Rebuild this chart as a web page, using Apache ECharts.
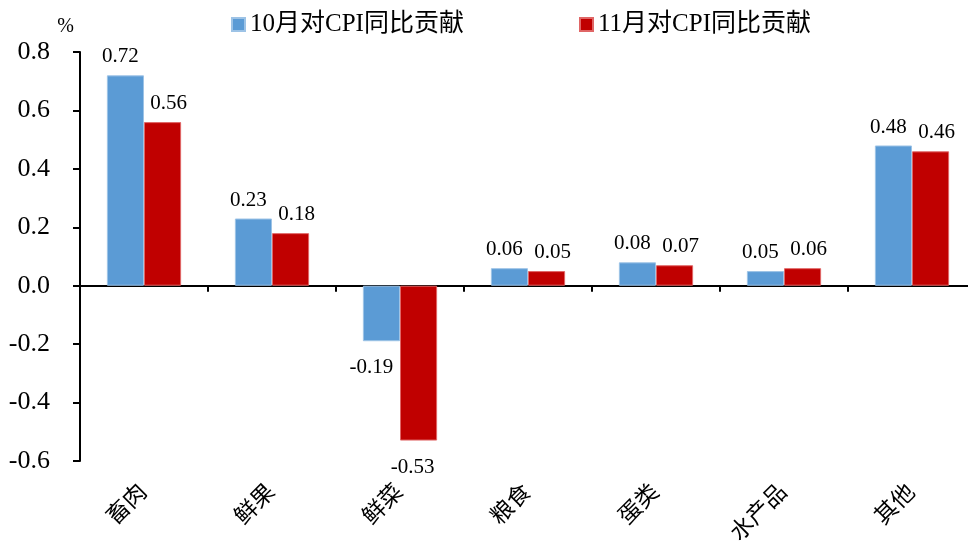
<!DOCTYPE html>
<html>
<head>
<meta charset="utf-8">
<script src="https://cdn.jsdelivr.net/npm/echarts@6/dist/echarts.min.js"></script>
<style>
  html, body { margin: 0; padding: 0; background: #ffffff; }
  #chart { width: 968px; height: 547px; }
</style>
</head>
<body>
<div id="chart"></div>
<script>
// Food-group contributions to year-on-year CPI (percentage points)
const categories = ['畜肉', '鲜果', '鲜菜', '粮食', '蛋类', '水产品', '其他'];
const octValues = [0.72, 0.23, -0.19, 0.06, 0.08, 0.05, 0.48];
const novValues = [0.56, 0.18, -0.53, 0.05, 0.07, 0.06, 0.46];
const seriesNames = ['10月对CPI同比贡献', '11月对CPI同比贡献'];
const yTicks = { min: -0.6, max: 0.8, interval: 0.2 };

const FONT = "'Times New Roman', 'Liberation Serif', 'Noto Sans CJK SC', serif";
const BLUE = '#5B9BD5';
const RED = '#C00000';

// value labels sit above positive bars and below negative ones,
// nudged sideways so that neighbouring labels do not collide
function barData(values, side) {
  return values.map(v => ({
    value: v,
    label: v >= 0
      ? { position: 'top', distance: 8, offset: [side < 0 ? -5 : 6, 0] }
      : { position: 'bottom', distance: 16, offset: [side < 0 ? -10 : -6, 0] }
  }));
}

const chart = echarts.init(document.getElementById('chart'), null, { renderer: 'canvas' });

chart.setOption({
  animation: false,
  backgroundColor: '#ffffff',
  textStyle: { fontFamily: FONT },
  grid: {
    left: 80, width: 896, top: 52, bottom: 86,
    containLabel: false, outerBoundsMode: 'none'
  },
  legend: [
    {
      data: [seriesNames[0]], left: 226, top: 7,
      itemWidth: 13, itemHeight: 13, itemGap: 6, icon: 'rect',
      textStyle: { fontFamily: FONT, fontSize: 25, color: '#000' }
    },
    {
      data: [seriesNames[1]], left: 574, top: 7,
      itemWidth: 13, itemHeight: 13, itemGap: 6, icon: 'rect',
      textStyle: { fontFamily: FONT, fontSize: 25, color: '#000' }
    }
  ],
  xAxis: [
    {
      // axis line through zero with boundary ticks
      type: 'category', data: categories, position: 'bottom',
      axisLine: { onZero: true, lineStyle: { color: '#000', width: 2 } },
      axisTick: { show: true, alignWithLabel: false, length: 6, lineStyle: { color: '#000', width: 2 } },
      axisLabel: { show: false },
      splitLine: { show: false }
    },
    {
      // category names along the bottom of the plot
      type: 'category', data: categories, position: 'bottom',
      axisLine: { show: false, onZero: false },
      axisTick: { show: false },
      axisLabel: {
        show: true, rotate: 45, margin: 28, interval: 0,
        fontFamily: FONT, fontSize: 23, color: '#000'
      },
      splitLine: { show: false }
    }
  ],
  yAxis: {
    type: 'value', min: yTicks.min, max: yTicks.max, interval: yTicks.interval,
    name: '%', nameLocation: 'end', nameGap: 15,
    nameTextStyle: { fontFamily: FONT, fontSize: 20, color: '#000', align: 'right', padding: [0, 6, 0, 0] },
    axisLine: { show: true, lineStyle: { color: '#000', width: 2 } },
    axisTick: { show: true, inside: false, length: 7, lineStyle: { color: '#000', width: 2 } },
    axisLabel: {
      margin: 30, fontFamily: FONT, fontSize: 26, color: '#000',
      formatter: v => v.toFixed(1)
    },
    splitLine: { show: false }
  },
  series: [
    {
      name: seriesNames[0], type: 'bar', xAxisIndex: 0,
      data: barData(octValues, -1), barWidth: '29%', barGap: '0%',
      itemStyle: { color: BLUE, borderColor: '#9DC3E6', borderWidth: 1 },
      label: { show: true, fontFamily: FONT, fontSize: 21, color: '#000', formatter: p => p.value.toFixed(2) }
    },
    {
      name: seriesNames[1], type: 'bar', xAxisIndex: 0,
      data: barData(novValues, 1), barWidth: '29%', barGap: '0%',
      itemStyle: { color: RED, borderColor: '#E06666', borderWidth: 1 },
      label: { show: true, fontFamily: FONT, fontSize: 21, color: '#000', formatter: p => p.value.toFixed(2) }
    }
  ]
});
</script>
</body>
</html>
